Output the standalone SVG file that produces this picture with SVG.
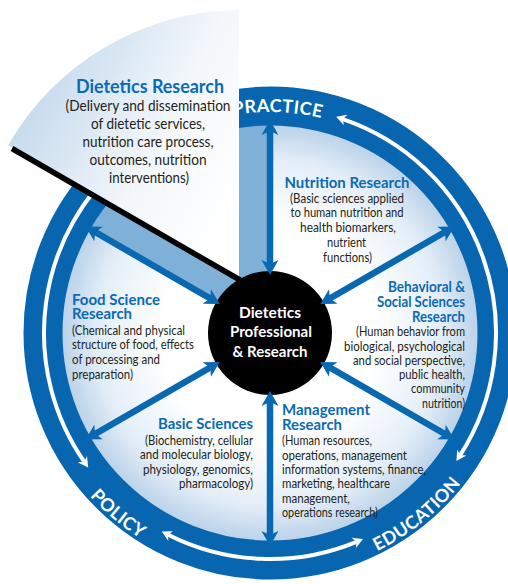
<svg xmlns="http://www.w3.org/2000/svg" width="508" height="584" viewBox="0 0 508 584">
  <style>
    .h { font-family: Lato, "Liberation Sans", sans-serif; font-weight: 700; fill: #0b6ab3; font-size: 15px; }
    .hb { font-family: Lato, "Liberation Sans", sans-serif; font-weight: 700; fill: #0b6ab3; font-size: 18.5px; }
    .b { font-family: Lato, "Liberation Sans", sans-serif; fill: #231f20; font-size: 12.5px; }
    .bb { font-family: Lato, "Liberation Sans", sans-serif; fill: #231f20; font-size: 15px; }
    .c { font-family: Lato, "Liberation Sans", sans-serif; font-weight: 700; fill: #ffffff; font-size: 16px; }
    .rl { font-family: Lato, "Liberation Sans", sans-serif; font-weight: 700; fill: #ffffff; font-size: 18px; letter-spacing: 0.4px; }
    .spoke { stroke: #0868b1; stroke-width: 6.5; fill: none; marker-start: url(#ah); marker-end: url(#ah); }
    .warc { stroke: #ffffff; stroke-width: 4; fill: none; }
  </style>
  <defs>
    <radialGradient id="disk" gradientUnits="userSpaceOnUse" cx="270" cy="333" r="215">
      <stop offset="0" stop-color="#ffffff"/>
      <stop offset="0.5" stop-color="#ffffff"/>
      <stop offset="0.8" stop-color="#e4eef8"/>
      <stop offset="1" stop-color="#b3cde6"/>
    </radialGradient>
    <linearGradient id="wedge" gradientUnits="userSpaceOnUse" x1="240" y1="200" x2="20" y2="90">
      <stop offset="0" stop-color="#ffffff"/>
      <stop offset="0.4" stop-color="#f3f7fb"/>
      <stop offset="1" stop-color="#c2d8ec"/>
    </linearGradient>
    <marker id="ah" markerUnits="userSpaceOnUse" viewBox="0 -10 16 20" markerWidth="16" markerHeight="20" refX="4" refY="0" orient="auto-start-reverse">
      <path d="M15,0 L0,-8.5 L4,0 L0,8.5 Z" fill="#0868b1"/>
    </marker>
    <marker id="wh" markerUnits="userSpaceOnUse" viewBox="0 -6 11 12" markerWidth="11" markerHeight="12" refX="3" refY="0" orient="auto-start-reverse">
      <path d="M10,0 L0,-5.5 L3,0 L0,5.5 Z" fill="#ffffff"/>
    </marker>
    <path id="pPractice" d="M166.2,137.9 A221,221 0 0,1 387.1,145.6"/>
    <path id="pPolicy" d="M41.6,416.1 A243,243 0 0,0 227.8,572.3"/>
    <path id="pEducation" d="M308,573 A243,243 0 0,0 496.9,420.1"/>
  </defs>

  <!-- background disk and exposed sector -->
  <g id="disk-bg">
    <circle cx="270" cy="333" r="215" fill="url(#disk)"/>
    <path d="M270,333 L83.8,225.5 A215,215 0 0,1 270,118 Z" fill="#7eb0d8"/>
  </g>

  <!-- outer ring with its cycle arrows and labels -->
  <g id="ring">
    <circle cx="270" cy="333" r="227" fill="none" stroke="#0866b0" stroke-width="39"/>
    <path class="warc" d="M342.8,119.1 A226,226 0 0,1 460.2,455.1" marker-start="url(#wh)" marker-end="url(#wh)"/>
    <path class="warc" d="M356.5,541.8 A226,226 0 0,1 168.1,534.7" marker-start="url(#wh)" marker-end="url(#wh)"/>
    <path class="warc" d="M84.2,461.7 A226,226 0 0,1 124.7,159.9" marker-start="url(#wh)"/>
    <text class="rl"><textPath href="#pPractice" startOffset="50%" text-anchor="middle">PRACTICE</textPath></text>
    <text class="rl"><textPath href="#pPolicy" startOffset="50%" text-anchor="middle">POLICY</textPath></text>
    <text class="rl"><textPath href="#pEducation" startOffset="50%" text-anchor="middle">EDUCATION</textPath></text>
  </g>

  <!-- pulled-out wedge -->
  <g id="node-dietetics-research">
    <path d="M239,279 L8,145.5 A269,269 0 0,1 239,10 Z" fill="url(#wedge)"/>
    <line x1="240" y1="280" x2="12" y2="148.5" stroke="#000000" stroke-width="5.5"/>
    <text class="hb" x="150" y="93" text-anchor="middle" textLength="148" lengthAdjust="spacingAndGlyphs">Dietetics Research</text>
    <text class="bb" x="148" y="111" text-anchor="middle" textLength="165" lengthAdjust="spacingAndGlyphs">(Delivery and dissemination</text>
    <text class="bb" x="148" y="129" text-anchor="middle" textLength="114" lengthAdjust="spacingAndGlyphs">of dietetic services,</text>
    <text class="bb" x="148" y="147" text-anchor="middle" textLength="131" lengthAdjust="spacingAndGlyphs">nutrition care process,</text>
    <text class="bb" x="148" y="165" text-anchor="middle" textLength="117" lengthAdjust="spacingAndGlyphs">outcomes, nutrition</text>
    <text class="bb" x="149" y="183" text-anchor="middle" textLength="80" lengthAdjust="spacingAndGlyphs">interventions)</text>
  </g>

  <!-- center node -->
  <g id="node-center">
    <circle cx="270" cy="333" r="62" fill="#000000"/>
    <text class="c" x="270" y="318" text-anchor="middle" textLength="62" lengthAdjust="spacingAndGlyphs">Dietetics</text>
    <text class="c" x="271" y="337" text-anchor="middle" textLength="82" lengthAdjust="spacingAndGlyphs">Professional</text>
    <text class="c" x="270" y="357" text-anchor="middle" textLength="75" lengthAdjust="spacingAndGlyphs">&amp; Research</text>
  </g>

  <!-- connectors (spokes) -->
  <g id="connectors">
    <line class="spoke" x1="270" y1="264" x2="270" y2="131"/>
    <line class="spoke" x1="329.8" y1="298.5" x2="444.9" y2="232"/>
    <line class="spoke" x1="329.8" y1="367.5" x2="444.9" y2="434"/>
    <line class="spoke" x1="270" y1="402" x2="270" y2="535"/>
    <line class="spoke" x1="210.2" y1="367.5" x2="95.1" y2="434"/>
    <line class="spoke" x1="210.2" y1="298.5" x2="95.1" y2="232"/>
  </g>

  <g id="node-nutrition">
    <text class="h" x="347" y="188" text-anchor="middle" textLength="125" lengthAdjust="spacingAndGlyphs">Nutrition Research</text>
    <text class="b" x="347" y="203" text-anchor="middle" textLength="114" lengthAdjust="spacingAndGlyphs">(Basic sciences applied</text>
    <text class="b" x="347" y="217" text-anchor="middle" textLength="113" lengthAdjust="spacingAndGlyphs">to human nutrition and</text>
    <text class="b" x="348" y="232" text-anchor="middle" textLength="96" lengthAdjust="spacingAndGlyphs">health biomarkers,</text>
    <text class="b" x="346.5" y="247" text-anchor="middle" textLength="39" lengthAdjust="spacingAndGlyphs">nutrient</text>
    <text class="b" x="347.5" y="262" text-anchor="middle" textLength="49" lengthAdjust="spacingAndGlyphs">functions)</text>
  </g>

  <g id="node-behavioral">
    <text class="h" x="465" y="292" text-anchor="end" textLength="77" lengthAdjust="spacingAndGlyphs">Behavioral &amp;</text>
    <text class="h" x="465" y="307" text-anchor="end" textLength="88" lengthAdjust="spacingAndGlyphs">Social Sciences</text>
    <text class="h" x="465" y="322" text-anchor="end" textLength="53" lengthAdjust="spacingAndGlyphs">Research</text>
    <text class="b" x="465" y="336" text-anchor="end" textLength="109" lengthAdjust="spacingAndGlyphs">(Human behavior from</text>
    <text class="b" x="465" y="351" text-anchor="end" textLength="121" lengthAdjust="spacingAndGlyphs">biological, psychological</text>
    <text class="b" x="465" y="365" text-anchor="end" textLength="112" lengthAdjust="spacingAndGlyphs">and social perspective,</text>
    <text class="b" x="465" y="379" text-anchor="end" textLength="66" lengthAdjust="spacingAndGlyphs">public health,</text>
    <text class="b" x="465" y="393" text-anchor="end" textLength="54" lengthAdjust="spacingAndGlyphs">community</text>
    <text class="b" x="465" y="408" text-anchor="end" textLength="43" lengthAdjust="spacingAndGlyphs">nutrition)</text>
  </g>

  <g id="node-management">
    <text class="h" x="282" y="415" textLength="88" lengthAdjust="spacingAndGlyphs">Management</text>
    <text class="h" x="282" y="430" textLength="60" lengthAdjust="spacingAndGlyphs">Research</text>
    <text class="b" x="282" y="445" textLength="90" lengthAdjust="spacingAndGlyphs">(Human resources,</text>
    <text class="b" x="282" y="460" textLength="125" lengthAdjust="spacingAndGlyphs">operations, management</text>
    <text class="b" x="282" y="474" textLength="144" lengthAdjust="spacingAndGlyphs">information systems, finance,</text>
    <text class="b" x="282" y="488" textLength="108" lengthAdjust="spacingAndGlyphs">marketing, healthcare</text>
    <text class="b" x="282" y="503" textLength="68" lengthAdjust="spacingAndGlyphs">management,</text>
    <text class="b" x="282" y="517" textLength="96" lengthAdjust="spacingAndGlyphs">operations research)</text>
  </g>

  <g id="node-food-science">
    <text class="h" x="72" y="305" textLength="88" lengthAdjust="spacingAndGlyphs">Food Science</text>
    <text class="h" x="72" y="319" textLength="60" lengthAdjust="spacingAndGlyphs">Research</text>
    <text class="b" x="72" y="335" textLength="113" lengthAdjust="spacingAndGlyphs">(Chemical and physical</text>
    <text class="b" x="72" y="349" textLength="122" lengthAdjust="spacingAndGlyphs">structure of food, effects</text>
    <text class="b" x="72" y="364" textLength="88" lengthAdjust="spacingAndGlyphs">of processing and</text>
    <text class="b" x="72" y="379" textLength="61" lengthAdjust="spacingAndGlyphs">preparation)</text>
  </g>

  <g id="node-basic-sciences">
    <text class="h" x="253" y="429" text-anchor="end" textLength="95" lengthAdjust="spacingAndGlyphs">Basic Sciences</text>
    <text class="b" x="253" y="445" text-anchor="end" textLength="108" lengthAdjust="spacingAndGlyphs">(Biochemistry, cellular</text>
    <text class="b" x="253" y="459" text-anchor="end" textLength="113" lengthAdjust="spacingAndGlyphs">and molecular biology,</text>
    <text class="b" x="253" y="474" text-anchor="end" textLength="110" lengthAdjust="spacingAndGlyphs">physiology, genomics,</text>
    <text class="b" x="253" y="488" text-anchor="end" textLength="74" lengthAdjust="spacingAndGlyphs">pharmacology)</text>
  </g>
</svg>
